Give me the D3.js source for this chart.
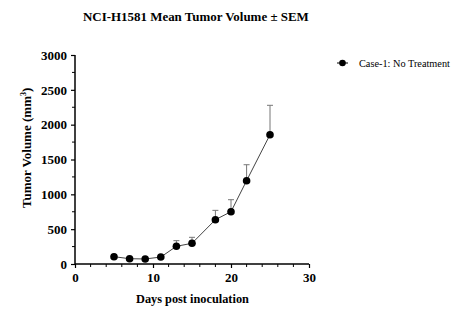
<!DOCTYPE html>
<html>
<head>
<meta charset="utf-8">
<script src="https://cdn.jsdelivr.net/npm/d3@7"></script>
<style>
  body { margin: 0; background: #fff; }
</style>
</head>
<body>
<div id="chart"></div>
<script>
// mean tumor volume per measurement day, with upper SEM
var days = [5, 7, 9, 11, 13, 15, 18, 20, 22, 25];
var meanVolume = [105, 76, 72, 100, 254, 297, 636, 751, 1196, 1856];
var semVolume = [0, 0, 0, 0, 81, 86, 134, 172, 229, 422];
var xTicks = [0, 10, 20, 30];
var yTicks = [0, 500, 1000, 1500, 2000, 2500, 3000];
var seriesName = "Case-1: No Treatment";

var width = 463, height = 329;
var serif = "Liberation Serif";

var svg = d3.select("#chart")
  .append("svg")
    .attr("width", width)
    .attr("height", height);

var x = d3.scaleLinear().domain([0, 30]).range([75, 309]);
var y = d3.scaleLinear().domain([0, 3000]).range([264, 55]);

var points = days.map(function(d, i) {
  return { day: d, mean: meanVolume[i], sem: semVolume[i] };
});

// scale a label's font so it spans the given length
function fitText(t, len) {
  var size = parseFloat(t.style("font-size"));
  var w = t.node().getComputedTextLength();
  if (w > 0) t.style("font-size", (size * len / w).toFixed(2) + "px");
  return t;
}

// title
var title = svg.append("text")
  .attr("x", 83).attr("y", 21)
  .style("font-family", serif)
  .style("font-size", "14px").style("font-weight", "bold")
  .text("NCI-H1581 Mean Tumor Volume \u00b1 SEM");
fitText(title, 226);

// x axis
var xAxis = svg.append("g")
  .attr("transform", "translate(0," + y(0) + ")")
  .call(d3.axisBottom(x).tickValues(xTicks).tickSize(4).tickPadding(5).tickFormat(d3.format("d")));
xAxis.append("g").selectAll("line")
  .data(d3.range(0, 31, 2).filter(function(d) { return d % 10 != 0; }))
  .enter().append("line")
    .attr("x1", function(d) { return x(d); }).attr("x2", function(d) { return x(d); })
    .attr("y1", 0).attr("y2", 3)
    .attr("stroke", "#000");

// y axis
var yAxis = svg.append("g")
  .attr("transform", "translate(" + x(0) + ",0)")
  .call(d3.axisLeft(y).tickValues(yTicks).tickSize(4).tickPadding(4).tickFormat(d3.format("d")));
yAxis.append("g").selectAll("line")
  .data(d3.range(250, 3000, 500))
  .enter().append("line")
    .attr("y1", function(d) { return y(d); }).attr("y2", function(d) { return y(d); })
    .attr("x1", 0).attr("x2", -3)
    .attr("stroke", "#000");

[xAxis, yAxis].forEach(function(a) {
  a.select(".domain").attr("stroke-width", 1.5);
  a.selectAll(".tick line").attr("stroke-width", 1.2);
  a.selectAll("text")
    .style("font-family", serif)
    .style("font-size", "13px").style("font-weight", "bold")
    .attr("fill", "#000");
});
// plain axis lines, no outer end ticks
xAxis.select(".domain").attr("d", "M" + x(0) + ",0H" + x(30));
yAxis.select(".domain").attr("d", "M0," + y(0) + "V" + y(3000));

// axis titles
var xLabel = svg.append("text")
  .attr("x", 136).attr("y", 303)
  .style("font-family", serif)
  .style("font-size", "13px").style("font-weight", "bold")
  .text("Days post inoculation");
fitText(xLabel, 113);

var yLabel = svg.append("text")
  .attr("transform", "translate(31,208) rotate(-90)")
  .style("font-family", serif)
  .style("font-size", "13px").style("font-weight", "bold");
yLabel.append("tspan").text("Tumor Volume (mm");
yLabel.append("tspan").attr("dy", -5).style("font-size", "8px").text("3");
yLabel.append("tspan").attr("dy", 5).text(")");

// upper error bars
var bars = svg.append("g").attr("stroke", "#777").attr("stroke-width", 1);
bars.selectAll("line.bar")
  .data(points.filter(function(p) { return p.sem > 0; }))
  .enter().append("line")
    .attr("x1", function(p) { return x(p.day); }).attr("x2", function(p) { return x(p.day); })
    .attr("y1", function(p) { return y(p.mean); })
    .attr("y2", function(p) { return y(p.mean + p.sem); });
bars.selectAll("line.cap")
  .data(points.filter(function(p) { return p.sem > 0; }))
  .enter().append("line")
    .attr("x1", function(p) { return x(p.day) - 3; }).attr("x2", function(p) { return x(p.day) + 3; })
    .attr("y1", function(p) { return y(p.mean + p.sem); })
    .attr("y2", function(p) { return y(p.mean + p.sem); });

// mean line and markers
var line = d3.line()
  .x(function(p) { return x(p.day); })
  .y(function(p) { return y(p.mean); });

svg.append("path")
  .datum(points)
  .attr("d", line)
  .attr("fill", "none")
  .attr("stroke", "#444")
  .attr("stroke-width", 1);

svg.append("g").selectAll("circle")
  .data(points)
  .enter().append("circle")
    .attr("cx", function(p) { return x(p.day); })
    .attr("cy", function(p) { return y(p.mean); })
    .attr("r", 3.8)
    .attr("fill", "#000");

// legend
var legend = svg.append("g").attr("transform", "translate(337,63)");
legend.append("line")
  .attr("x1", 0).attr("x2", 11)
  .attr("stroke", "#000").attr("stroke-width", 1);
legend.append("circle").attr("cx", 5.5).attr("r", 3.3).attr("fill", "#000");
var legendText = legend.append("text")
  .attr("x", 22).attr("y", 4)
  .style("font-family", serif)
  .style("font-size", "11px")
  .text(seriesName);
fitText(legendText, 91);
</script>
</body>
</html>
